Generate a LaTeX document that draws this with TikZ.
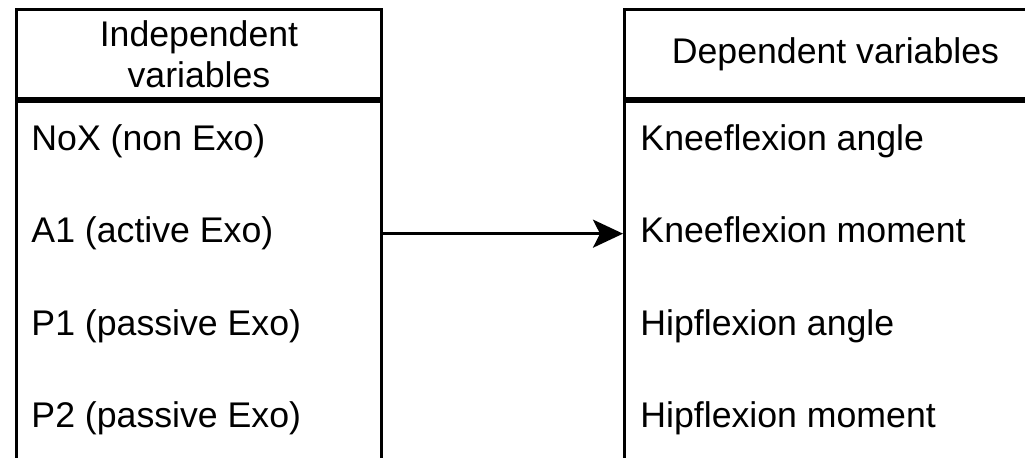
\documentclass[tikz,border=0pt]{standalone}
\usepackage{fontspec}
\setmainfont{Liberation Sans}
\usetikzlibrary{positioning,arrows.meta}

\begin{document}
\begin{tikzpicture}[x=0.02cm,y=-0.02cm,line width=1.7pt,
		>={Stealth[length=0.6cm,width=0.56cm,inset=0.14cm]},
		head node/.style={draw,rectangle,align=center,inner sep=0pt,font=\fontsize{20.3}{23.5}\selectfont},
		box node/.style={draw,rectangle,inner sep=0pt,minimum height=8.4cm},
		item node/.style={inner sep=0pt,text height=0.52cm,text depth=0.15cm,font=\fontsize{20.3}{24}\selectfont}]
		% rahmen
		\clip (0,0) rectangle (1025,457);
		
		\node[head node,minimum width=7.3cm,minimum height=1.78cm,anchor=north west] (indHead) at (15,8) {Independent\\variables};
		\node[box node,minimum width=7.3cm,anchor=north west] (indBody) at (indHead.south west) {};
		\node[head node,minimum width=8.44cm,minimum height=1.78cm,anchor=north west] (depHead) at (623,8) {Dependent variables};
		\node[box node,minimum width=8.44cm,anchor=north west] (depBody) at (depHead.south west) {};
		
		% unabhaengige
		\node[item node] (nox) [below right=0.46cm and 0.3cm of indHead.south west] {NoX (non Exo)};
		\node[item node] (a1) [below=1.12cm of nox.south west,anchor=north west] {A1 (active Exo)};
		\node[item node] (p1) [below=1.12cm of a1.south west,anchor=north west] {P1 (passive Exo)};
		\node[item node] (p2) [below=1.12cm of p1.south west,anchor=north west] {P2 (passive Exo)};
		
		% abhaengige
		\node[item node] (kangle) [below right=0.46cm and 0.32cm of depHead.south west] {Kneeflexion angle};
		\node[item node] (kmoment) [below=1.12cm of kangle.south west,anchor=north west] {Kneeflexion moment};
		\node[item node] (hangle) [below=1.12cm of kmoment.south west,anchor=north west] {Hipflexion angle};
		\node[item node] (hmoment) [below=1.12cm of hangle.south west,anchor=north west] {Hipflexion moment};
		
		\draw[->] (indBody.east |- a1) -- (depBody.west |- a1);
\end{tikzpicture}
\end{document}
